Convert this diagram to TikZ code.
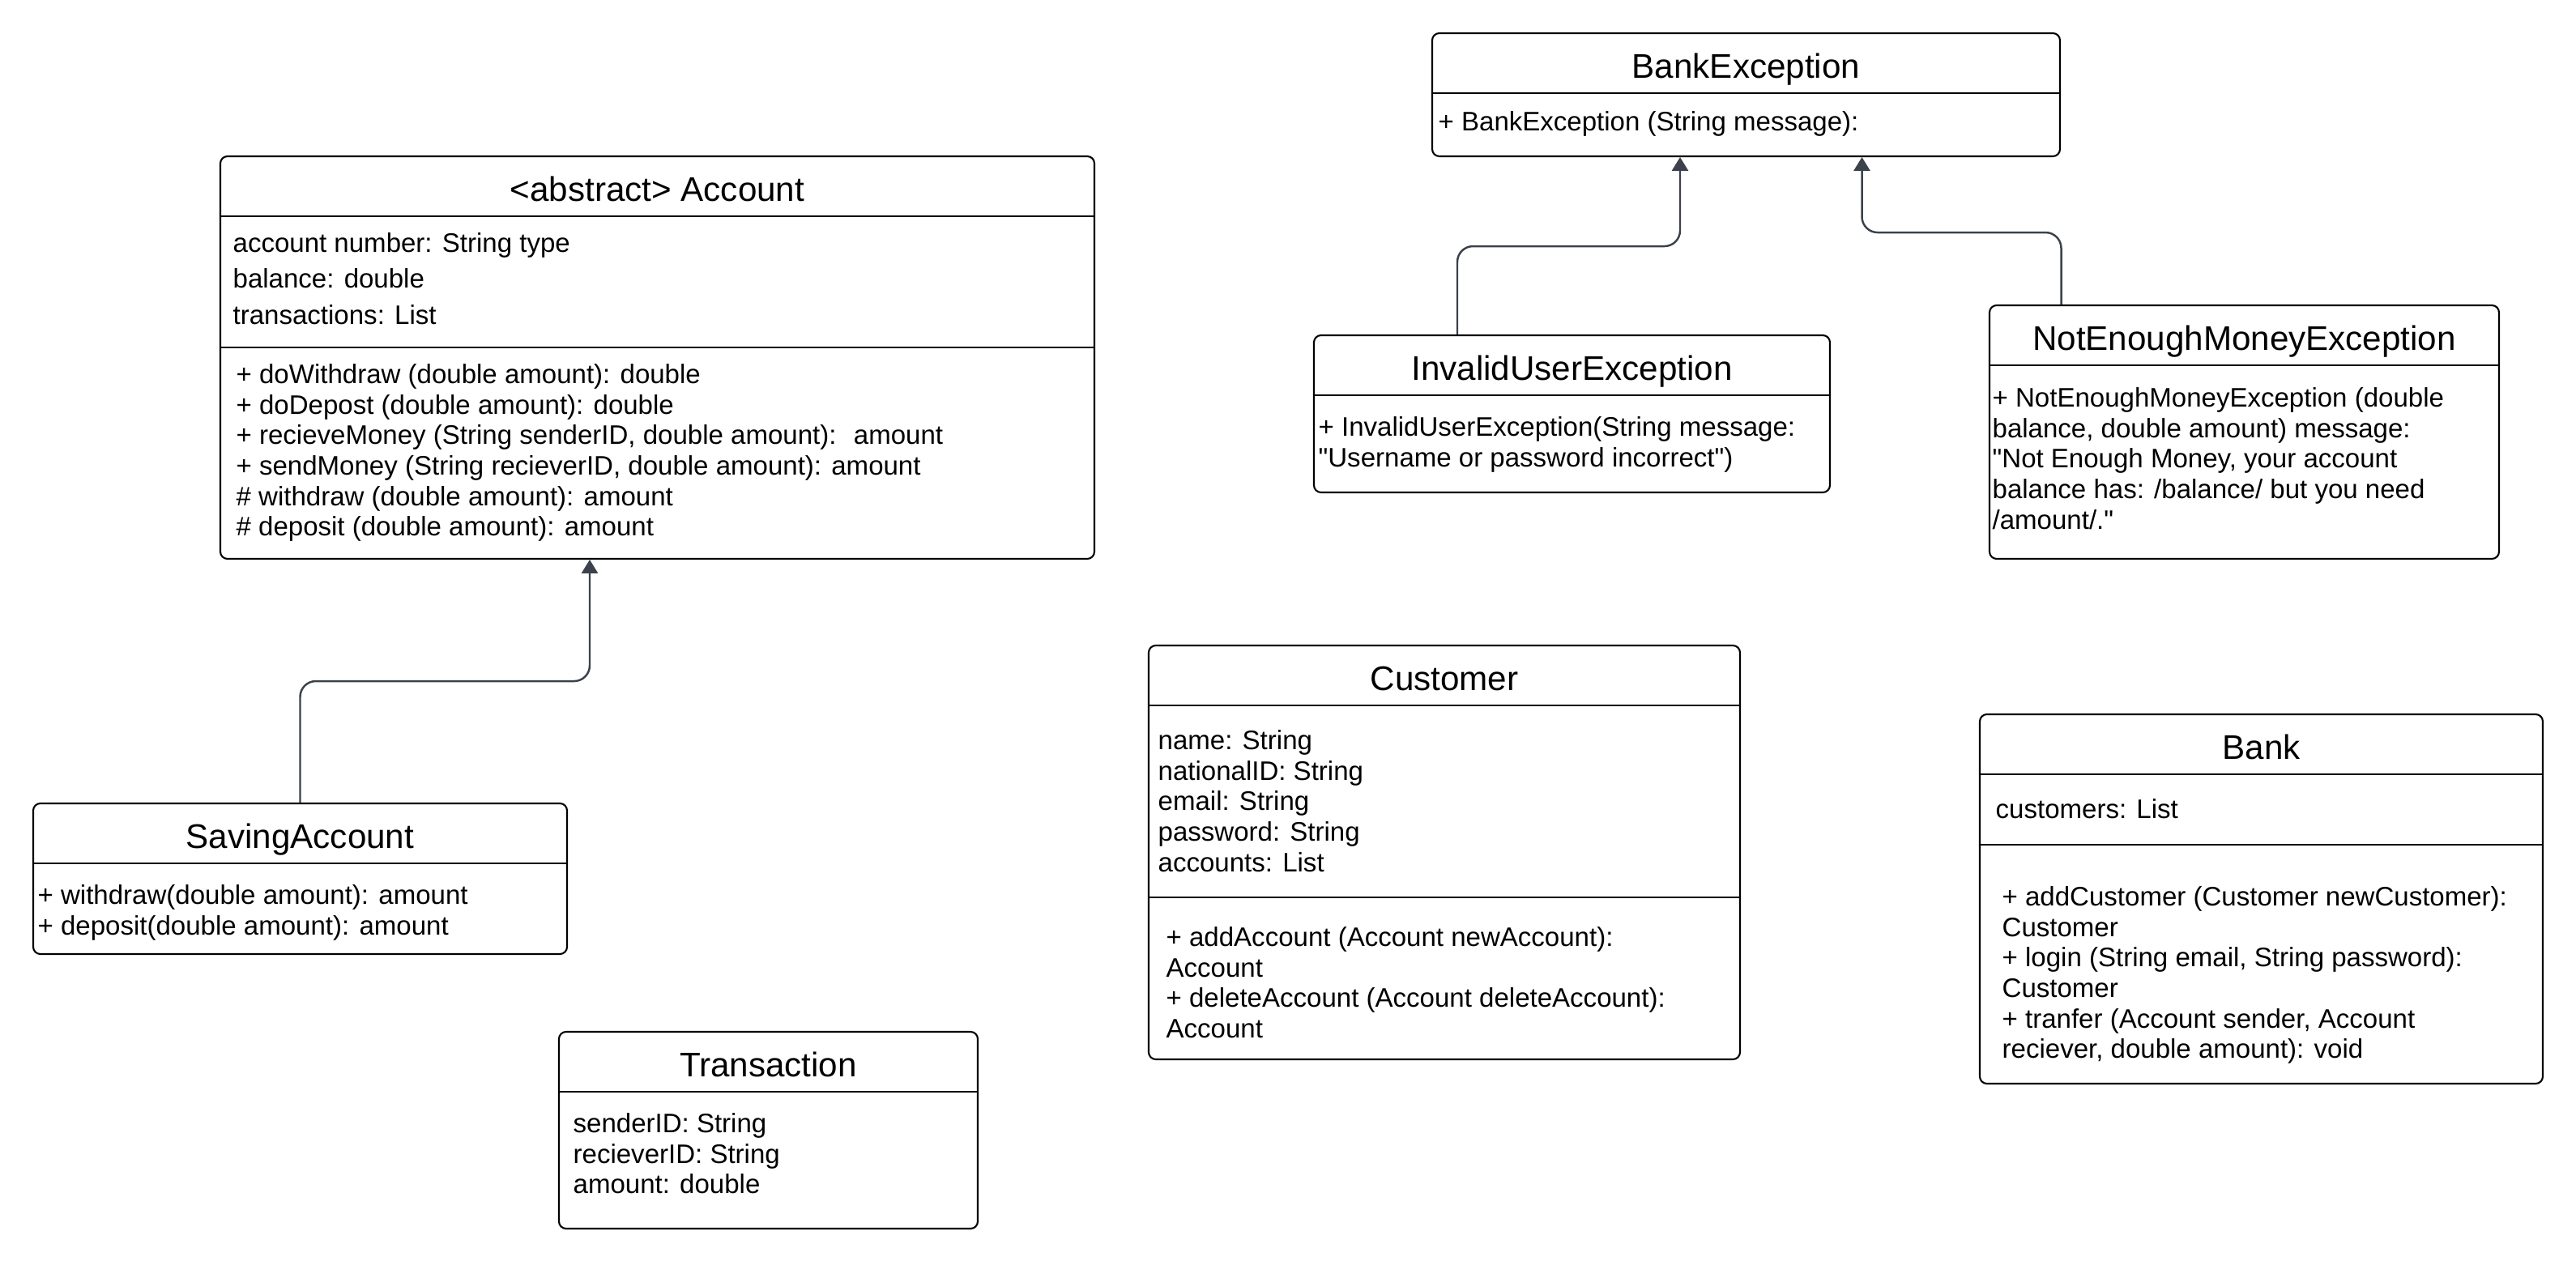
\documentclass[tikz,border=0pt]{standalone}
\usepackage{fontspec}
\setmainfont{Liberation Sans}
\usetikzlibrary{arrows.meta, positioning, calc}

\definecolor{linkgray}{HTML}{3B424B}

\begin{document}
\begin{tikzpicture}[
    >={Triangle[length=4.8pt, width=5.7pt]},
    classbox/.style={
      draw=black, rounded corners=2.5pt, line width=0.6pt,
      inner sep=0pt,
    },
    classname/.style={
      font=\fontsize{12}{14}\selectfont, inner sep=0pt,
      text height=8.6pt, text depth=2.2pt,
    },
    members/.style={
      font=\fontsize{9.4}{10.7}\selectfont, align=left,
      anchor=north west, inner sep=0pt,
    },
    divider/.style={draw=black, line width=0.6pt},
    inherit arrow/.style={->, draw=linkgray, line width=0.7pt,
      rounded corners=5.5pt},
  ]

  %% ---- page frame: 3180 x 1557 px, 1 px = 0.01 cm ----
  \useasboundingbox (0,0) rectangle (31.8,-15.57);
  \def\headh{0.75}
  \def\namey{-0.455}

  %% ---- class boxes (explicit centres) ----
  \node[classbox, minimum width=10.79cm, minimum height=4.97cm]
    (Acc)   at (8.115, -4.415)  {};
  \node[classbox, minimum width=6.59cm, minimum height=1.86cm]
    (Sav)   at (3.705, -10.85)  {};
  \node[classbox, minimum width=5.17cm, minimum height=2.43cm]
    (Trans) at (9.485, -13.955) {};
  \node[classbox, minimum width=7.30cm, minimum height=5.11cm]
    (Cust)  at (17.83, -10.525) {};
  \node[classbox, minimum width=6.95cm, minimum height=4.56cm]
    (Bank)  at (27.915, -11.10) {};
  \node[classbox, minimum width=7.75cm, minimum height=1.52cm]
    (BExc)  at (21.555, -1.17)  {};
  \node[classbox, minimum width=6.37cm, minimum height=1.94cm]
    (Inv)   at (19.405, -5.11)  {};
  \node[classbox, minimum width=6.29cm, minimum height=3.13cm]
    (NEM)   at (27.705, -5.335) {};

  %% ---- header dividers ----
  \foreach \c in {Acc, Sav, Trans, Cust, Bank, BExc, Inv, NEM}
    \draw[divider] ([yshift=-\headh cm]\c.north west)
      -- ([yshift=-\headh cm]\c.north east);

  % attribute / method dividers
  \draw[divider] ([yshift=-2.37cm]Acc.north west)
    -- ([yshift=-2.37cm]Acc.north east);
  \draw[divider] ([yshift=-3.12cm]Cust.north west)
    -- ([yshift=-3.12cm]Cust.north east);
  \draw[divider] ([yshift=-1.62cm]Bank.north west)
    -- ([yshift=-1.62cm]Bank.north east);

  %% ---- class names ----
  \node[classname] (AccName)   at ([yshift=\namey cm]Acc.north)
    {<abstract> Account};
  \node[classname] (SavName)   at ([yshift=\namey cm]Sav.north)
    {SavingAccount};
  \node[classname] (TransName) at ([yshift=\namey cm]Trans.north)
    {Transaction};
  \node[classname] (CustName)  at ([yshift=\namey cm]Cust.north)
    {Customer};
  \node[classname] (BankName)  at ([yshift=\namey cm]Bank.north)
    {Bank};
  \node[classname] (BExcName)  at ([yshift=\namey cm]BExc.north)
    {BankException};
  \node[classname] (InvName)   at ([yshift=\namey cm]Inv.north)
    {InvalidUserException};
  \node[classname] (NEMName)   at ([yshift=\namey cm]NEM.north)
    {NotEnoughMoneyException};

  %% ---- members ----
  \node[members, font=\fontsize{9.4}{12.6}\selectfont] (AccAttr)
    at ([xshift=0.16cm, yshift=-0.95cm]Acc.north west)
    {account number: String type\\ balance: double\\ transactions: List};
  \node[members] (AccOps)
    at ([xshift=0.20cm, yshift=-2.57cm]Acc.north west)
    {+ doWithdraw (double amount): double\\
     + doDepost (double amount): double\\
     + recieveMoney (String senderID, double amount):~ amount\\
     + sendMoney (String recieverID, double amount): amount\\
     \# withdraw (double amount): amount\\
     \# deposit (double amount): amount};

  \node[members] (SavOps)
    at ([xshift=0.06cm, yshift=-1.01cm]Sav.north west)
    {+ withdraw(double amount): amount\\
     + deposit(double amount): amount};

  \node[members] (TransAttr)
    at ([xshift=0.18cm, yshift=-1.01cm]Trans.north west)
    {senderID: String\\ recieverID: String\\ amount: double};

  \node[members] (CustAttr)
    at ([xshift=0.12cm, yshift=-1.05cm]Cust.north west)
    {name: String\\ nationalID: String\\ email: String\\
     password: String\\ accounts: List};
  \node[members] (CustOps)
    at ([xshift=0.22cm, yshift=-3.48cm]Cust.north west)
    {+ addAccount (Account newAccount):\\ Account\\
     + deleteAccount (Account deleteAccount):\\ Account};

  \node[members] (BankAttr)
    at ([xshift=0.20cm, yshift=-1.05cm]Bank.north west)
    {customers: List};
  \node[members] (BankOps)
    at ([xshift=0.28cm, yshift=-2.13cm]Bank.north west)
    {+ addCustomer (Customer newCustomer):\\ Customer\\
     + login (String email, String password):\\ Customer\\
     + tranfer (Account sender, Account\\
     reciever, double amount): void};

  \node[members] (BExcOps)
    at ([xshift=0.08cm, yshift=-0.97cm]BExc.north west)
    {+ BankException (String message):};

  \node[members] (InvOps)
    at ([xshift=0.06cm, yshift=-1.01cm]Inv.north west)
    {+ InvalidUserException(String message:\\
     \textquotedbl Username or password incorrect\textquotedbl)};

  \node[members] (NEMOps)
    at ([xshift=0.04cm, yshift=-1.02cm]NEM.north west)
    {+ NotEnoughMoneyException (double\\
     balance, double amount) message:\\
     \textquotedbl Not Enough Money, your account\\
     balance has: /balance/ but you need\\
     /amount/.\textquotedbl};

  %% ---- inheritance arrows ----
  % SavingAccount -> Account
  \coordinate (accIn)   at ([xshift=-0.835cm]Acc.south);
  \coordinate (savBend) at ([yshift=-1.50cm]accIn);
  \draw[inherit arrow] (Sav.north) |- (savBend) -- (accIn);

  % InvalidUserException -> BankException
  \coordinate (bexcInL) at ([xshift=-0.815cm]BExc.south);
  \coordinate (invOut)  at ([xshift=-1.415cm]Inv.north);
  \coordinate (invBend) at ([yshift=-1.10cm]bexcInL);
  \draw[inherit arrow] (invOut) |- (invBend) -- (bexcInL);

  % NotEnoughMoneyException -> BankException
  \coordinate (bexcInR) at ([xshift=1.43cm]BExc.south);
  \coordinate (nemOut)  at ([xshift=-2.26cm]NEM.north);
  \coordinate (nemBend) at ([yshift=-0.93cm]bexcInR);
  \draw[inherit arrow] (nemOut) |- (nemBend) -- (bexcInR);

\end{tikzpicture}
\end{document}
